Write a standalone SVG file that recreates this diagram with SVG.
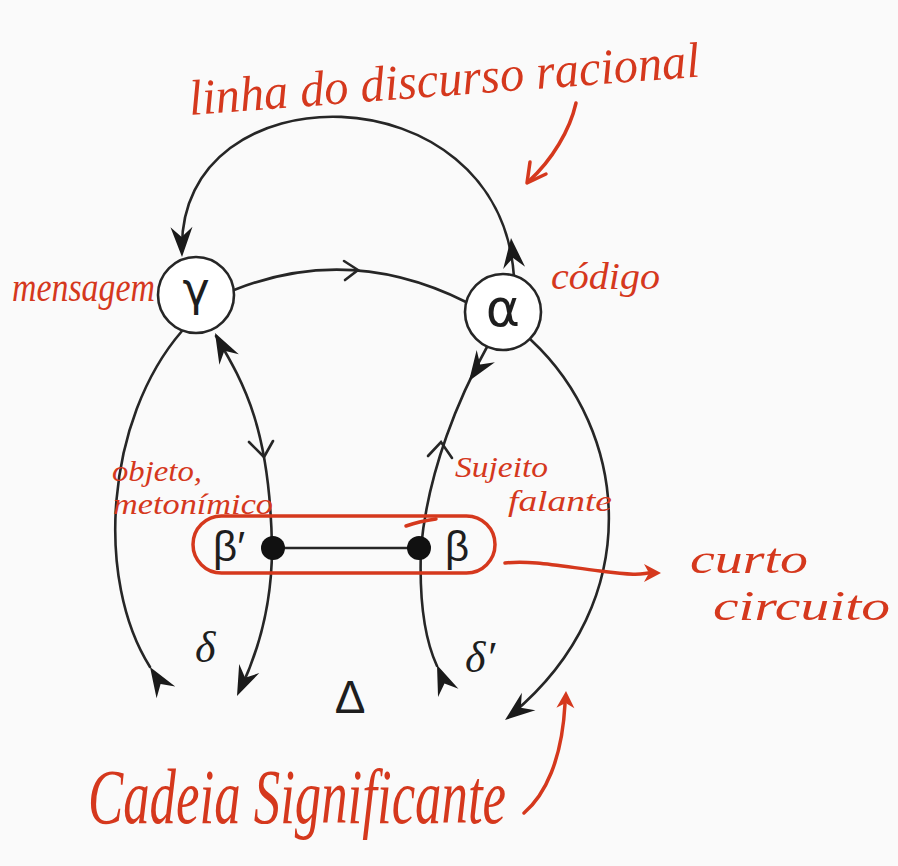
<svg xmlns="http://www.w3.org/2000/svg" xmlns:xlink="http://www.w3.org/1999/xlink" width="898" height="866" viewBox="0 0 898 866">
<style>
.ln{fill:none;stroke:#262626;stroke-width:2.6;stroke-linecap:round}
.nd{fill:#ffffff;stroke:#262626;stroke-width:2.6}
.gk{font-family:"DejaVu Sans","Liberation Sans",sans-serif;fill:#1e1e1e}
.gs{font-family:"Liberation Sans","DejaVu Sans",sans-serif;fill:#1e1e1e}
.gi{font-family:"Liberation Serif","DejaVu Serif",serif;font-style:italic;fill:#1e1e1e}
.rd{fill:none;stroke:#d5381d;stroke-width:3.5;stroke-linecap:round;stroke-linejoin:round}
.rt{font-family:"Liberation Serif","DejaVu Serif",serif;font-style:italic;fill:#d5381d}
</style>
<defs>
<path id="ah" d="M0,0 L-30,-11 L-20,0 L-30,11 Z" fill="#1a1a1a"/>
<path id="rah" d="M0,0 L-17,-9 L-12,0 L-17,9 Z" fill="#d5381d"/>
</defs>
<rect x="0" y="0" width="898" height="866" fill="#fafafa"/>

<g id="connectors">
  <!-- top arc alpha -> gamma -->
  <path class="ln" d="M514 277 C500 68, 178 68, 182 250"/>
  <use xlink:href="#ah" transform="translate(182,257) rotate(89)"/>
  <use xlink:href="#ah" transform="translate(511,238) rotate(-96)"/>
  <!-- middle arc gamma -> alpha -->
  <path class="ln" d="M234 290 Q350 244 466 302"/>
  <polyline class="ln" points="344,261 358,270 345,280"/>
  <!-- left outer -->
  <path class="ln" d="M182 331 C105 420, 95 580, 150 667"/>
  <use xlink:href="#ah" transform="translate(150,667) rotate(-122)"/>
  <!-- left inner gamma <-> beta' -> delta -->
  <path class="ln" d="M216 336 C245 385, 270 430, 272 548 C272 610, 256 656, 241 688"/>
  <use xlink:href="#ah" transform="translate(215,333) rotate(-118)"/>
  <polyline class="ln" points="249,442 264,457 273,441"/>
  <use xlink:href="#ah" transform="translate(237,696) rotate(114)"/>
  <!-- right inner alpha <-> beta -> delta' -->
  <path class="ln" d="M487 347 C460 395, 428 470, 421 548 C419 600, 425 640, 437 666"/>
  <use xlink:href="#ah" transform="translate(469,381) rotate(124)"/>
  <polyline class="ln" points="428,456 441,442 452,458"/>
  <use xlink:href="#ah" transform="translate(437,665) rotate(-112)"/>
  <!-- right outer -->
  <path class="ln" d="M531 340 C628 430, 648 600, 512 714"/>
  <use xlink:href="#ah" transform="translate(505,720) rotate(142)"/>
  <!-- beta' - beta -->
  <line class="ln" x1="273" y1="548" x2="419" y2="548" stroke-width="3"/>
</g>

<g id="node-gamma">
  <circle class="nd" cx="196" cy="295" r="38"/>
  <text class="gk" x="196" y="305" font-size="46" text-anchor="middle">γ</text>
</g>
<g id="node-alpha">
  <circle class="nd" cx="503" cy="312" r="38"/>
  <text class="gk" x="503" y="326" font-size="52" text-anchor="middle">α</text>
</g>
<g id="node-beta-prime">
  <circle cx="273" cy="548" r="12" fill="#111"/>
  <text class="gs" x="213" y="561" font-size="42">β′</text>
</g>
<g id="node-beta">
  <circle cx="419" cy="548" r="12" fill="#111"/>
  <text class="gs" x="445" y="561" font-size="42">β</text>
</g>
<g id="labels-black">
  <text class="gi" x="195" y="662" font-size="44">δ</text>
  <text class="gi" x="465" y="672" font-size="44">δ′</text>
  <text class="gs" x="350" y="713" font-size="46" text-anchor="middle">Δ</text>
</g>

<g id="annotations">
  <rect class="rd" x="193" y="516" width="302" height="57" rx="28.5"/>
  <path class="rd" d="M406 526 Q420 521 436 519"/>
  <path class="rd" d="M505 563 C530 560, 560 566, 600 571 S640 574, 648 573"/>
  <use xlink:href="#rah" transform="translate(661,573)"/>
  <path class="rd" d="M576 103 C570 130, 552 160, 529 181"/>
  <polyline class="rd" points="530,162 527,183 546,174"/>
  <path class="rd" d="M524 813 C545 795, 562 760, 565 704"/>
  <use xlink:href="#rah" transform="translate(566,691) rotate(-88)"/>

  <text class="rt" font-size="50" transform="translate(190,115) rotate(-4.3)" textLength="512" lengthAdjust="spacingAndGlyphs">linha do discurso racional</text>
  <text class="rt" x="12" y="301" font-size="40" textLength="143" lengthAdjust="spacingAndGlyphs">mensagem</text>
  <text class="rt" x="551" y="289" font-size="38" textLength="109" lengthAdjust="spacingAndGlyphs">código</text>
  <text class="rt" x="112" y="481" font-size="30" textLength="90" lengthAdjust="spacingAndGlyphs">objeto,</text>
  <text class="rt" x="113" y="514" font-size="30" textLength="160" lengthAdjust="spacingAndGlyphs">metonímico</text>
  <text class="rt" x="455" y="477" font-size="30" textLength="93" lengthAdjust="spacingAndGlyphs">Sujeito</text>
  <text class="rt" x="508" y="511" font-size="30" textLength="104" lengthAdjust="spacingAndGlyphs">falante</text>
  <text class="rt" x="690" y="573" font-size="42" textLength="118" lengthAdjust="spacingAndGlyphs">curto</text>
  <text class="rt" x="713" y="620" font-size="42" textLength="177" lengthAdjust="spacingAndGlyphs">circuito</text>
  <text class="rt" x="88" y="823" font-size="78" textLength="418" lengthAdjust="spacingAndGlyphs">Cadeia Significante</text>
</g>
</svg>
